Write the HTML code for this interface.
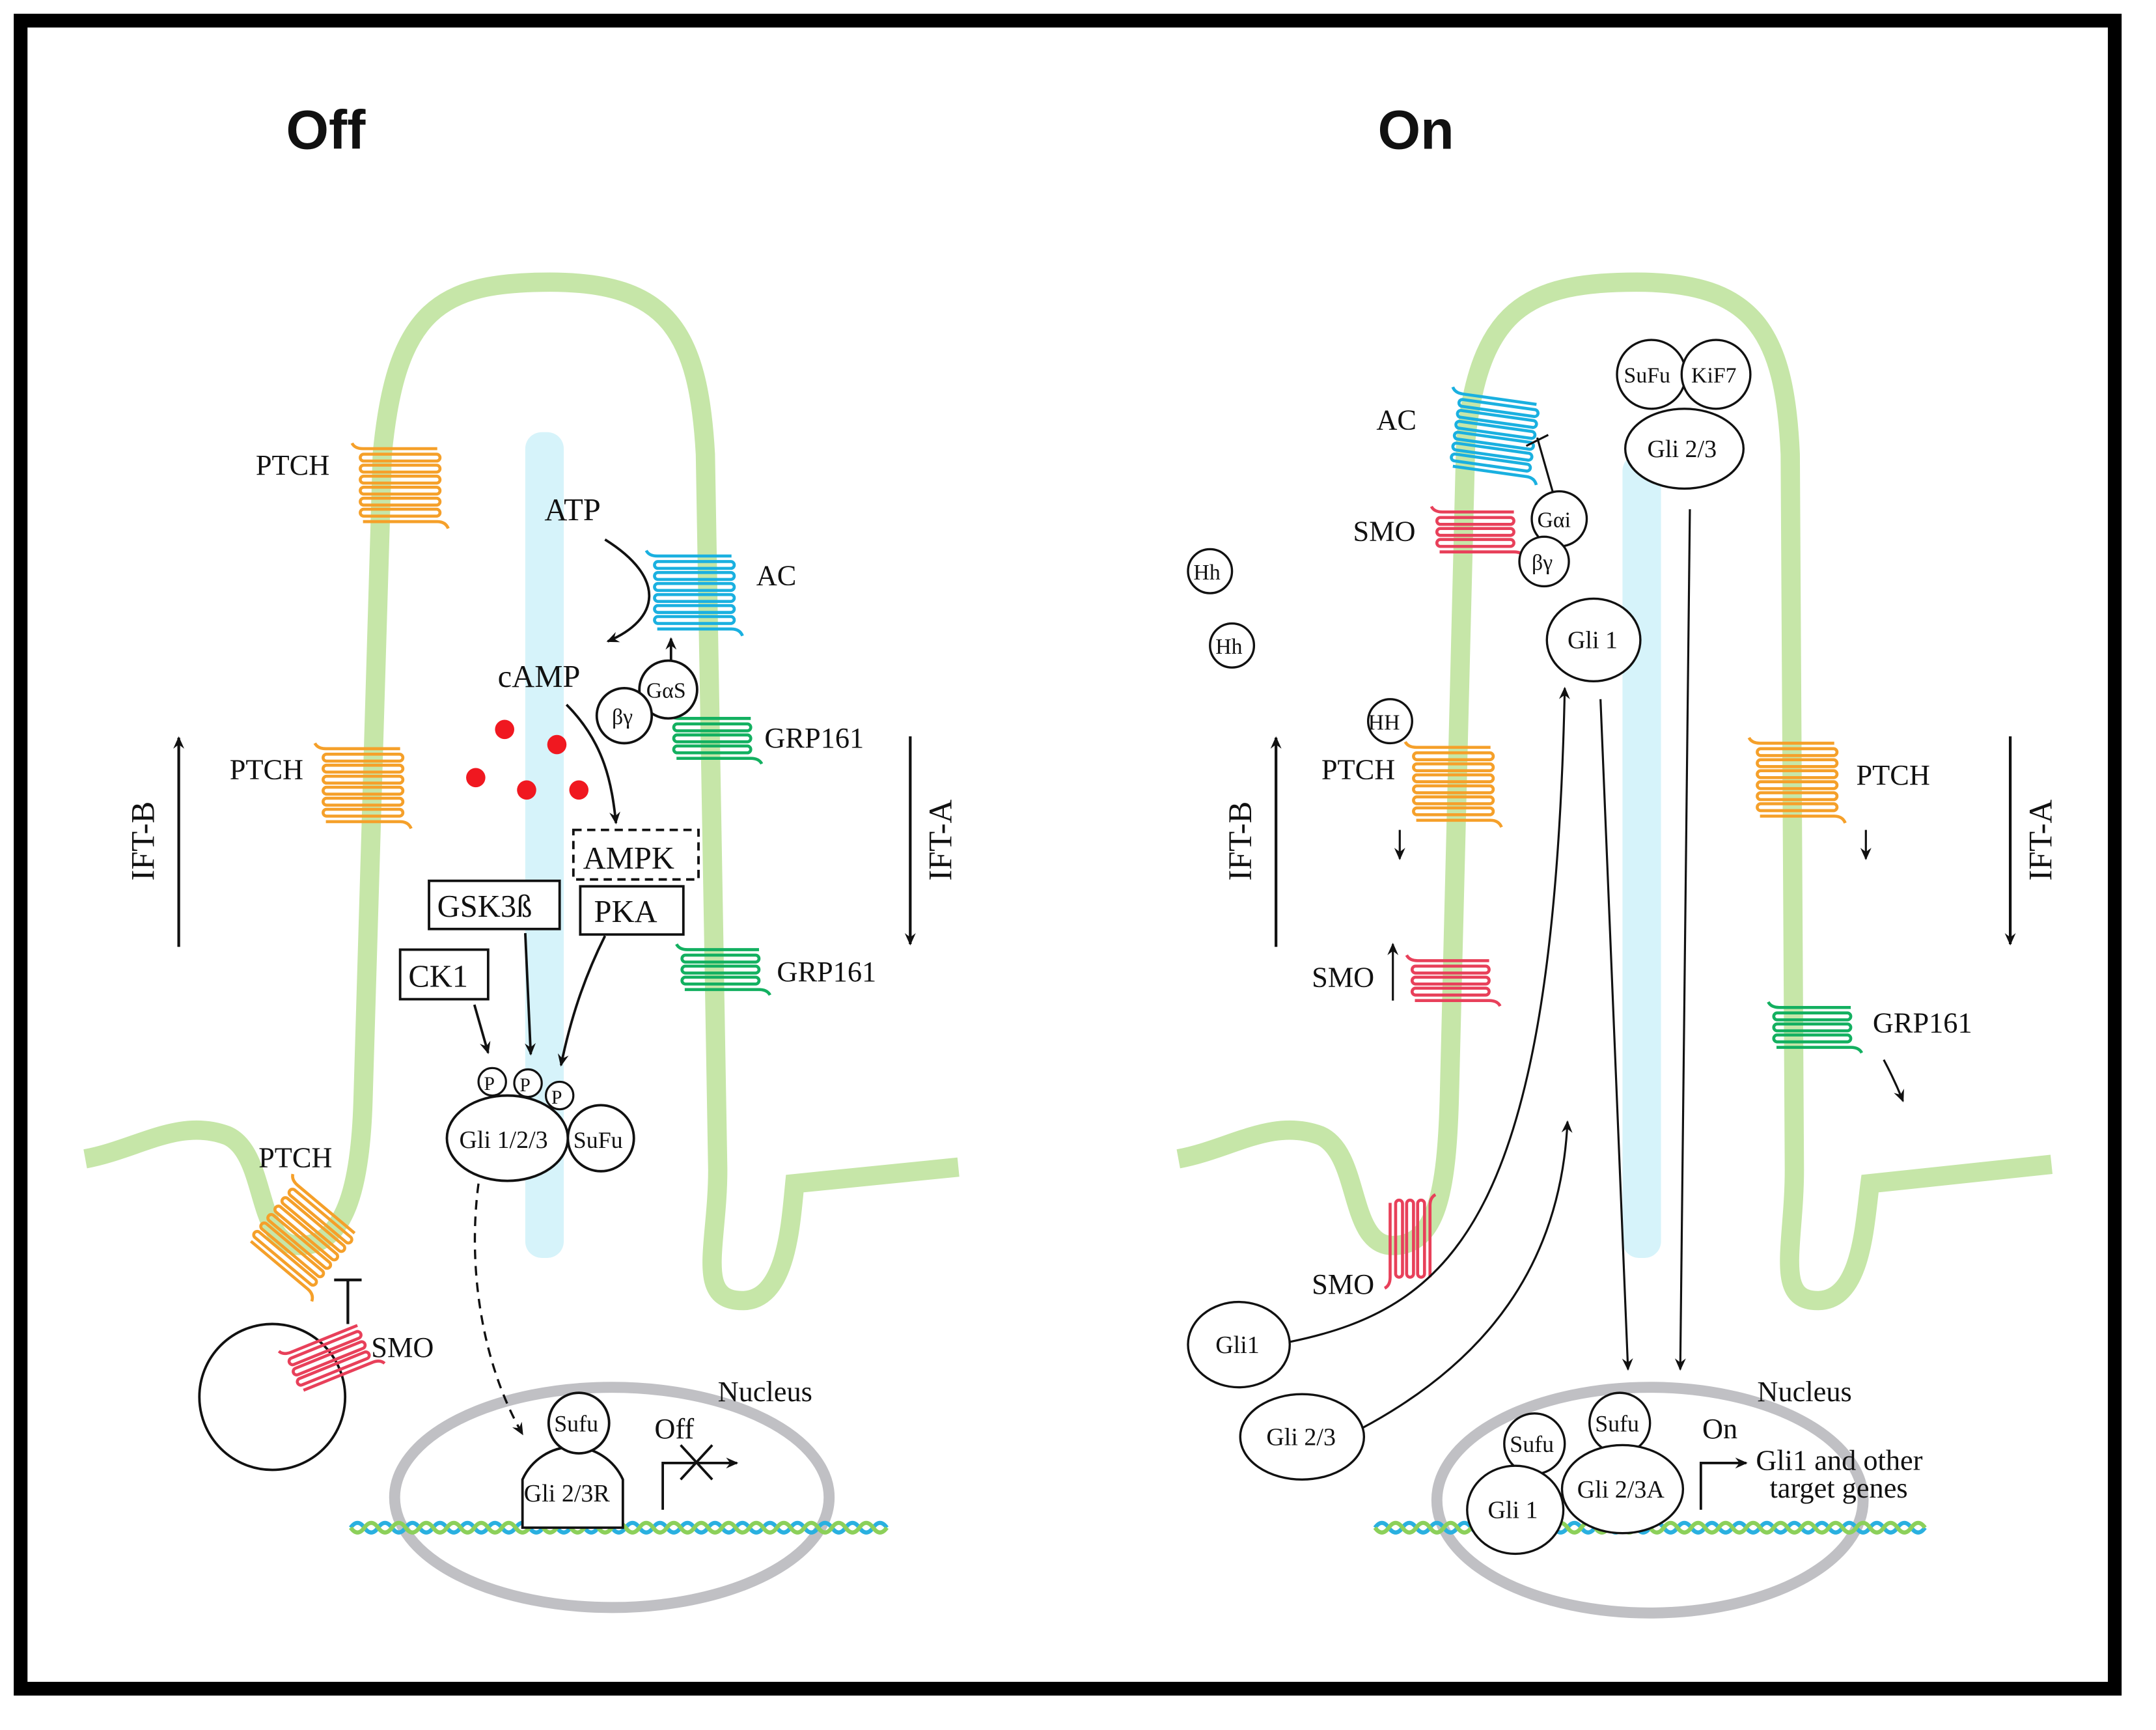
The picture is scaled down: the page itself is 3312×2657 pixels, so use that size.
<!DOCTYPE html>
<html><head><meta charset="utf-8"><style>
html,body{margin:0;padding:0;background:#fff;}
svg{display:block;}
text{font-family:"Liberation Serif",serif;fill:#111;}
.t{font-size:21px;}
.s{font-size:16px;}
.b{font-family:"Liberation Sans",sans-serif;font-weight:bold;font-size:40px;}
</style></head><body>
<svg width="3312" height="2657" viewBox="0 0 1568 1257" preserveAspectRatio="none" xmlns="http://www.w3.org/2000/svg">
<defs>
<marker id="a" markerWidth="10" markerHeight="10" refX="8" refY="5" orient="auto" markerUnits="userSpaceOnUse"><path d="M0,1 L9,5 L0,9 L3,5 Z" fill="#111"/></marker>
<g id="rec" fill="none" stroke="currentColor" stroke-width="2.2">
<path d="M-6,-4 q2,4 8,4 H56"/>
<rect x="0" y="4" width="58" height="5" rx="2.5"/>
<rect x="0" y="12" width="58" height="5" rx="2.5"/>
<rect x="0" y="20" width="58" height="5" rx="2.5"/>
<rect x="0" y="28" width="58" height="5" rx="2.5"/>
<rect x="0" y="36" width="58" height="5" rx="2.5"/>
<rect x="0" y="44" width="58" height="5" rx="2.5"/>
<path d="M2,53 H56 q6,0 8,5"/>
</g>
<g id="rec5" fill="none" stroke="currentColor" stroke-width="2.2">
<path d="M-4,-4 q2,4 8,4 H56"/>
<rect x="0" y="4" width="56" height="5" rx="2.5"/>
<rect x="0" y="12" width="56" height="5" rx="2.5"/>
<rect x="0" y="20" width="56" height="5" rx="2.5"/>
<path d="M2,29 H56 q6,0 8,4"/>
</g>
</defs>
<rect x="0" y="0" width="1568" height="1257" fill="#fff"/>
<rect x="15" y="15" width="1523" height="1212" fill="#fff" stroke="#000" stroke-width="10"/>

<text x="208" y="108" class="b">Off</text>
<text x="1002" y="108" class="b">On</text>

<!-- LEFT -->
<rect x="382" y="314" width="28" height="600" rx="12" fill="#d6f3fa"/>
<path d="M62,842 C100,835 130,812 165,825 C195,838 185,905 218,905 C250,905 262,865 264,800 L278,330 C288,225 320,205 400,205 C485,205 508,240 513,330 L522,850 C522,905 505,945 540,945 C572,945 575,890 578,860 L697,848" fill="none" stroke="#c6e6a8" stroke-width="14"/>
<ellipse cx="445" cy="1088" rx="158" ry="80" fill="none" stroke="#c0c0c4" stroke-width="8"/>
<path d="M255,1110 q5,-7 10,0 t10,0 t10,0 t10,0 t10,0 t10,0 t10,0 t10,0 t10,0 t10,0 t10,0 t10,0 t10,0 t10,0 t10,0 t10,0 t10,0 t10,0 t10,0 t10,0 t10,0 t10,0 t10,0 t10,0 t10,0 t10,0 t10,0 t10,0 t10,0 t10,0 t10,0 t10,0 t10,0 t10,0 t10,0 t10,0 t10,0 t10,0 t10,0" fill="none" stroke="#2ab0e0" stroke-width="3"/>
<path d="M255,1110 q5,7 10,0 t10,0 t10,0 t10,0 t10,0 t10,0 t10,0 t10,0 t10,0 t10,0 t10,0 t10,0 t10,0 t10,0 t10,0 t10,0 t10,0 t10,0 t10,0 t10,0 t10,0 t10,0 t10,0 t10,0 t10,0 t10,0 t10,0 t10,0 t10,0 t10,0 t10,0 t10,0 t10,0 t10,0 t10,0 t10,0 t10,0 t10,0 t10,0" fill="none" stroke="#8cd05a" stroke-width="3"/>

<use href="#rec" x="262" y="326" style="color:#f5a02a"/>
<use href="#rec" x="235" y="544" style="color:#f5a02a"/>
<use href="#rec" transform="translate(215,860) rotate(40)" style="color:#f5a02a"/>
<use href="#rec" x="476" y="404" style="color:#1ab0e0"/>
<use href="#rec5" x="490" y="522" style="color:#13b060"/>
<use href="#rec5" x="496" y="690" style="color:#13b060"/>

<text x="186" y="345" class="t">PTCH</text>
<text x="167" y="566" class="t">PTCH</text>
<text x="188" y="848" class="t">PTCH</text>
<text x="396" y="378" class="t" style="font-size:23px">ATP</text>
<text x="550" y="425" class="t">AC</text>
<text x="362" y="499" class="t" style="font-size:23px">cAMP</text>
<text x="556" y="543" class="t">GRP161</text>
<text x="565" y="713" class="t">GRP161</text>
<text x="270" y="986" class="t">SMO</text>
<text x="522" y="1018" class="t">Nucleus</text>
<text x="476" y="1045" class="t">Off</text>
<text transform="translate(112,640) rotate(-90)" class="t" style="font-size:24px">IFT-B</text>
<text transform="translate(692,640) rotate(-90)" class="t" style="font-size:24px">IFT-A</text>
<line x1="130" y1="688" x2="130" y2="536" stroke="#111" stroke-width="2" marker-end="url(#a)"/>
<line x1="662" y1="535" x2="662" y2="686" stroke="#111" stroke-width="2" marker-end="url(#a)"/>

<path d="M440,392 C485,420 480,450 442,466" fill="none" stroke="#111" stroke-width="1.8" marker-end="url(#a)"/>
<path d="M412,512 C440,540 445,570 448,598" fill="none" stroke="#111" stroke-width="1.8" marker-end="url(#a)"/>
<line x1="488" y1="480" x2="488" y2="464" stroke="#111" stroke-width="1.8" marker-end="url(#a)"/>
<circle cx="486" cy="501" r="21" fill="#fff" stroke="#111" stroke-width="1.8"/>
<circle cx="454" cy="520" r="20" fill="#fff" stroke="#111" stroke-width="1.8"/>
<text x="470" y="507" class="s">GαS</text>
<text x="445" y="526" class="s">βγ</text>
<circle cx="367" cy="530" r="7" fill="#f01820"/><circle cx="405" cy="541" r="7" fill="#f01820"/>
<circle cx="346" cy="565" r="7" fill="#f01820"/><circle cx="383" cy="574" r="7" fill="#f01820"/><circle cx="421" cy="574" r="7" fill="#f01820"/>

<rect x="417" y="603" width="91" height="36" fill="#fff" stroke="#111" stroke-width="1.8" stroke-dasharray="6,4"/>
<text x="424" y="631" class="t" style="font-size:23px">AMPK</text>
<rect x="312" y="640" width="95" height="35" fill="#fff" stroke="#111" stroke-width="1.8"/>
<text x="318" y="666" class="t" style="font-size:23px">GSK3ß</text>
<rect x="422" y="644" width="75" height="35" fill="#fff" stroke="#111" stroke-width="1.8"/>
<text x="432" y="670" class="t" style="font-size:23px">PKA</text>
<rect x="291" y="690" width="64" height="36" fill="#fff" stroke="#111" stroke-width="1.8"/>
<text x="297" y="717" class="t" style="font-size:23px">CK1</text>
<path d="M345,730 L355,765" fill="none" stroke="#111" stroke-width="1.8" marker-end="url(#a)"/>
<path d="M382,678 L386,766" fill="none" stroke="#111" stroke-width="1.8" marker-end="url(#a)"/>
<path d="M440,680 C425,710 415,740 408,774" fill="none" stroke="#111" stroke-width="1.8" marker-end="url(#a)"/>
<ellipse cx="369" cy="827" rx="44" ry="31" fill="#fff" stroke="#111" stroke-width="1.8"/>
<circle cx="437" cy="827" r="24" fill="#fff" stroke="#111" stroke-width="1.8"/>
<circle cx="358" cy="786" r="10" fill="#fff" stroke="#111" stroke-width="1.5"/>
<circle cx="384" cy="787" r="10" fill="#fff" stroke="#111" stroke-width="1.5"/>
<circle cx="407" cy="796" r="10" fill="#fff" stroke="#111" stroke-width="1.5"/>
<text x="352" y="792" class="s" style="font-size:14px">P</text><text x="378" y="793" class="s" style="font-size:14px">P</text><text x="401" y="802" class="s" style="font-size:14px">P</text>
<text x="334" y="834" class="s" style="font-size:18px">Gli 1/2/3</text>
<text x="417" y="834" class="s" style="font-size:17px">SuFu</text>
<path d="M348,860 C340,920 350,990 380,1042" fill="none" stroke="#111" stroke-width="1.6" stroke-dasharray="7,5" marker-end="url(#a)"/>
<line x1="253" y1="930" x2="253" y2="962" stroke="#111" stroke-width="2"/><line x1="243" y1="930" x2="263" y2="930" stroke="#111" stroke-width="2"/>
<circle cx="198" cy="1015" r="53" fill="#fff" stroke="#111" stroke-width="1.8"/>
<g transform="translate(208,984) rotate(-22)"><use href="#rec5" style="color:#e8405a"/></g>
<path d="M380,1110 V1075 a40,40 0 0 1 73,0 V1110 Z" fill="#fff" stroke="#111" stroke-width="1.8"/>
<text x="381" y="1091" class="s" style="font-size:18px">Gli 2/3R</text>
<circle cx="421" cy="1034" r="22" fill="#fff" stroke="#111" stroke-width="1.8"/>
<text x="403" y="1040" class="s" style="font-size:17px">Sufu</text>
<path d="M482,1097 V1063 H536" fill="none" stroke="#111" stroke-width="1.8" marker-end="url(#a)"/>
<path d="M495,1050 L518,1075 M518,1050 L495,1075" stroke="#111" stroke-width="1.8"/>

<!-- RIGHT -->
<rect x="1180" y="330" width="28" height="584" rx="12" fill="#d6f3fa"/>
<path d="M857,842 C895,835 925,812 960,825 C990,838 980,905 1013,905 C1045,905 1052,865 1054,800 L1066,320 C1076,225 1110,205 1190,205 C1275,205 1298,240 1302,330 L1305,850 C1305,905 1290,945 1322,945 C1354,945 1356,890 1360,860 L1492,846" fill="none" stroke="#c6e6a8" stroke-width="14"/>
<ellipse cx="1200" cy="1090" rx="155" ry="82" fill="none" stroke="#c0c0c4" stroke-width="8"/>
<path d="M1000,1110 q5,-7 10,0 t10,0 t10,0 t10,0 t10,0 t10,0 t10,0 t10,0 t10,0 t10,0 t10,0 t10,0 t10,0 t10,0 t10,0 t10,0 t10,0 t10,0 t10,0 t10,0 t10,0 t10,0 t10,0 t10,0 t10,0 t10,0 t10,0 t10,0 t10,0 t10,0 t10,0 t10,0 t10,0 t10,0 t10,0 t10,0 t10,0 t10,0 t10,0 t10,0" fill="none" stroke="#2ab0e0" stroke-width="3"/>
<path d="M1000,1110 q5,7 10,0 t10,0 t10,0 t10,0 t10,0 t10,0 t10,0 t10,0 t10,0 t10,0 t10,0 t10,0 t10,0 t10,0 t10,0 t10,0 t10,0 t10,0 t10,0 t10,0 t10,0 t10,0 t10,0 t10,0 t10,0 t10,0 t10,0 t10,0 t10,0 t10,0 t10,0 t10,0 t10,0 t10,0 t10,0 t10,0 t10,0 t10,0 t10,0 t10,0" fill="none" stroke="#8cd05a" stroke-width="3"/>

<g transform="translate(1062,286) rotate(8)"><use href="#rec" style="color:#1ab0e0"/></g>
<use href="#rec5" x="1045" y="372" style="color:#e8405a"/>
<use href="#rec" x="1028" y="543" style="color:#f5a02a"/>
<use href="#rec5" x="1027" y="698" style="color:#e8405a"/>
<g transform="translate(1040,872) rotate(90)"><use href="#rec5" style="color:#e8405a"/></g>
<use href="#rec" x="1278" y="540" style="color:#f5a02a"/>
<use href="#rec5" x="1290" y="732" style="color:#13b060"/>

<text x="1001" y="312" class="t">AC</text>
<text x="984" y="393" class="t">SMO</text>
<text x="961" y="566" class="t">PTCH</text>
<text x="954" y="717" class="t">SMO</text>
<text x="954" y="940" class="t">SMO</text>
<text x="1350" y="570" class="t">PTCH</text>
<text x="1362" y="750" class="t">GRP161</text>
<text x="1278" y="1018" class="t">Nucleus</text>
<text x="1238" y="1045" class="t">On</text>
<text x="1277" y="1068" class="t">Gli1 and other</text>
<text x="1287" y="1088" class="t">target genes</text>
<text transform="translate(910,640) rotate(-90)" class="t" style="font-size:24px">IFT-B</text>
<text transform="translate(1492,640) rotate(-90)" class="t" style="font-size:24px">IFT-A</text>
<line x1="928" y1="688" x2="928" y2="536" stroke="#111" stroke-width="2" marker-end="url(#a)"/>
<line x1="1462" y1="535" x2="1462" y2="686" stroke="#111" stroke-width="2" marker-end="url(#a)"/>
<line x1="1018" y1="603" x2="1018" y2="624" stroke="#111" stroke-width="1.5" marker-end="url(#a)"/>
<line x1="1013" y1="727" x2="1013" y2="686" stroke="#111" stroke-width="1.5" marker-end="url(#a)"/>
<line x1="1357" y1="603" x2="1357" y2="624" stroke="#111" stroke-width="1.5" marker-end="url(#a)"/>
<path d="M1370,770 Q1378,785 1384,800" fill="none" stroke="#111" stroke-width="1.5" marker-end="url(#a)"/>
<path d="M1118,318 L1130,360 M1110,324 L1126,316" fill="none" stroke="#111" stroke-width="1.5"/>

<circle cx="880" cy="415" r="16" fill="#fff" stroke="#111" stroke-width="1.6"/><text x="868" y="421" class="s">Hh</text>
<circle cx="896" cy="469" r="16" fill="#fff" stroke="#111" stroke-width="1.6"/><text x="884" y="475" class="s">Hh</text>
<circle cx="1011" cy="524" r="16" fill="#fff" stroke="#111" stroke-width="1.6"/><text x="995" y="530" class="s">HH</text>
<circle cx="1134" cy="377" r="20" fill="#fff" stroke="#111" stroke-width="1.6"/><text x="1118" y="383" class="s">Gαi</text>
<circle cx="1123" cy="408" r="18" fill="#fff" stroke="#111" stroke-width="1.6"/><text x="1114" y="414" class="s">βγ</text>
<circle cx="1201" cy="272" r="25" fill="#fff" stroke="#111" stroke-width="1.6"/>
<circle cx="1248" cy="272" r="25" fill="#fff" stroke="#111" stroke-width="1.6"/>
<ellipse cx="1225" cy="326" rx="43" ry="29" fill="#fff" stroke="#111" stroke-width="1.6"/>
<text x="1181" y="278" class="s">SuFu</text><text x="1230" y="278" class="s">KiF7</text>
<text x="1198" y="332" class="s" style="font-size:18px">Gli 2/3</text>
<ellipse cx="1159" cy="465" rx="34" ry="30" fill="#fff" stroke="#111" stroke-width="1.6"/>
<text x="1140" y="471" class="s" style="font-size:18px">Gli 1</text>
<line x1="1229" y1="370" x2="1222" y2="995" stroke="#111" stroke-width="1.5" marker-end="url(#a)"/>
<line x1="1164" y1="508" x2="1184" y2="995" stroke="#111" stroke-width="1.5" marker-end="url(#a)"/>
<path d="M938,975 C1060,950 1130,880 1138,500" fill="none" stroke="#111" stroke-width="1.5" marker-end="url(#a)"/>
<path d="M990,1038 C1080,990 1135,920 1140,815" fill="none" stroke="#111" stroke-width="1.5" marker-end="url(#a)"/>
<ellipse cx="901" cy="977" rx="37" ry="31" fill="#fff" stroke="#111" stroke-width="1.6"/>
<text x="884" y="983" class="s" style="font-size:18px">Gli1</text>
<ellipse cx="947" cy="1044" rx="45" ry="31" fill="#fff" stroke="#111" stroke-width="1.6"/>
<text x="921" y="1050" class="s" style="font-size:18px">Gli 2/3</text>
<circle cx="1116" cy="1049" r="22" fill="#fff" stroke="#111" stroke-width="1.6"/><text x="1098" y="1055" class="s" style="font-size:17px">Sufu</text>
<circle cx="1178" cy="1034" r="22" fill="#fff" stroke="#111" stroke-width="1.6"/><text x="1160" y="1040" class="s" style="font-size:17px">Sufu</text>
<ellipse cx="1102" cy="1097" rx="35" ry="32" fill="#fff" stroke="#111" stroke-width="1.6"/>
<text x="1082" y="1103" class="s" style="font-size:18px">Gli 1</text>
<ellipse cx="1180" cy="1082" rx="44" ry="32" fill="#fff" stroke="#111" stroke-width="1.6"/>
<text x="1147" y="1088" class="s" style="font-size:18px">Gli 2/3A</text>
<path d="M1237,1097 V1063 H1270" fill="none" stroke="#111" stroke-width="1.8" marker-end="url(#a)"/>
</svg>
</body></html>
